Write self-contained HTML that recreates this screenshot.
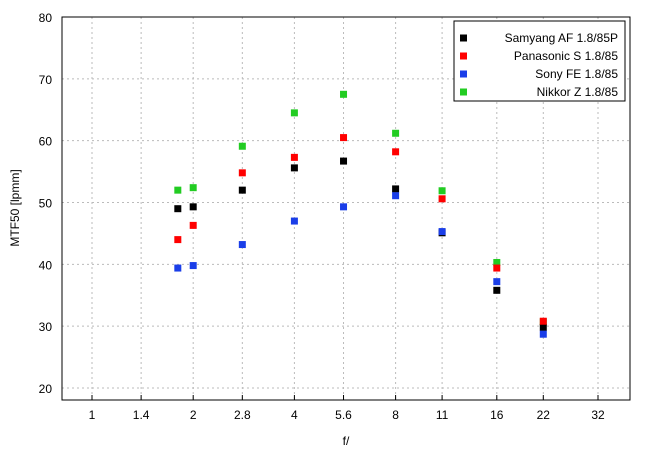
<!DOCTYPE html>
<html><head><meta charset="utf-8"><style>
body{margin:0;background:#fff;font-family:"Liberation Sans",sans-serif}
text{font-family:"Liberation Sans",sans-serif;font-size:12px;fill:#000}
</style></head><body>
<svg id="chart" width="655" height="455">
<rect width="655" height="455" fill="#fff"/>
<g id="grid"></g><g id="axes"></g><g id="marks"></g><g id="legend"></g>
</svg>
<script>
const apertures=[1.8,2,2.8,4,5.6,8,11,16,22];
const xTicks=[1,1.4,2,2.8,4,5.6,8,11,16,22,32];
const xTickLabels=["1","1.4","2","2.8","4","5.6","8","11","16","22","32"];
const yTicks=[20,30,40,50,60,70,80];
const seriesNames=["Samyang AF 1.8/85P","Panasonic S 1.8/85","Sony FE 1.8/85","Nikkor Z 1.8/85"];
const samyang=[49,49.3,52,55.6,56.7,52.2,45.1,35.8,29.8];
const panasonic=[44,46.3,54.8,57.3,60.5,58.2,50.6,39.4,30.8];
const sony=[39.4,39.8,43.2,47,49.3,51.1,45.3,37.2,28.7];
const nikkor=[52,52.4,59.1,64.5,67.5,61.2,51.9,40.3,30.7];
const colors=["#000000","#ff0000","#1a3ee8","#22cc22"];
const ns="http://www.w3.org/2000/svg";
const L=62,R=630,T=17,B=400;
const x=f=>92+101.2*Math.log2(f);
const y=v=>388-(v-20)*6.183;
function mk(tag,attrs,parent){const e=document.createElementNS(ns,tag);for(const k in attrs)e.setAttribute(k,attrs[k]);document.getElementById(parent).appendChild(e);return e;}
xTicks.forEach((t,i)=>{
 const g=mk('line',{x1:x(t),x2:x(t),y1:T,y2:B,stroke:'#bbb','stroke-dasharray':'2,3'},'grid');
 
 
 const tk=mk('line',{x1:x(t),x2:x(t),y1:B,y2:B-5,stroke:'#000'},'axes');
 
 
 const lb=mk('text',{x:x(t),y:B+19,'text-anchor':'middle'},'axes');lb.textContent=xTickLabels[i];
 
 
});
yTicks.forEach(t=>{
 const g=mk('line',{x1:L,x2:R,y1:y(t),y2:y(t),stroke:'#bbb','stroke-dasharray':'2,3'},'grid');
 
 
 const lb=mk('text',{x:L-10,y:y(t)+5,'text-anchor':'end'},'axes');lb.textContent=t;
 
 
});
const fr=mk('rect',{x:L,y:T,width:R-L,height:B-T,fill:'none',stroke:'#000'},'axes');


const xt=mk('text',{x:(L+R)/2,y:445,'text-anchor':'middle'},'axes');xt.textContent='f/';


const yt=mk('text',{x:0,y:0,transform:'translate(19,208) rotate(-90)','text-anchor':'middle'},'axes');yt.textContent='MTF50 [lpmm]';


const allSeries=[samyang,panasonic,sony,nikkor];
[3,0,1,2].forEach(si=>{
 allSeries[si].forEach((v,i)=>{
  const r=mk('rect',{x:x(apertures[i])-3.5,y:y(v)-3.5,width:7,height:7,fill:colors[si]},'marks');
  
  
 });
});
const lg=mk('rect',{x:454,y:21,width:171,height:80,fill:'#fff',stroke:'#000'},'legend');


seriesNames.forEach((n,i)=>{
 const yy=38+i*18;
 const t=mk('text',{x:618,y:yy+4,'text-anchor':'end'},'legend');t.textContent=n;
 
 
 const m=mk('rect',{x:460,y:yy-3.5,width:7,height:7,fill:colors[i]},'legend');
 
 
});
</script>
</body></html>
